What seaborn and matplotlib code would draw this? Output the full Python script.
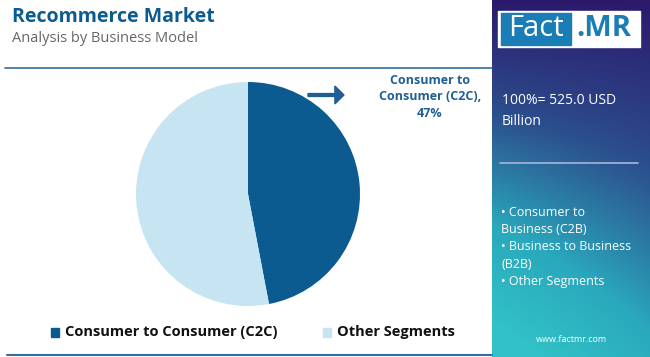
import numpy as np
import matplotlib
matplotlib.use("Agg")
import matplotlib.pyplot as plt
import seaborn as sns
from matplotlib.patches import Rectangle, FancyArrow
from matplotlib.colors import LinearSegmentedColormap

sns.set_theme(style="white")
plt.rcParams['font.family'] = ['Open Sans', 'DejaVu Sans']

# data
segments = ["Consumer to Consumer (C2C)", "Other Segments"]
shares = [47, 53]
colors = ["#0b5b91", "#c6e4f2"]
total_label = "100%= 525.0 USD\nBillion"
other_items = ["• Consumer to\nBusiness (C2B)", "• Business to Business\n(B2B)", "• Other Segments"]

W, H = 650, 357
fig = plt.figure(figsize=(W / 100, H / 100), dpi=100)
fig.patch.set_facecolor("white")

def fx(x): return x / W
def fy(y): return 1 - y / H

# titles
fig.text(fx(12), fy(17), "Recommerce Market", fontsize=14, fontweight="bold",
         color="#0b5b91", va="center", ha="left")
fig.text(fx(12), fy(38), "Analysis by Business Model", fontsize=10.5,
         color="#666666", va="center", ha="left")

# separator lines
fig.add_artist(plt.Line2D([fx(5), fx(492)], [fy(68), fy(68)], color="#2f6f9f", lw=1.2))
fig.add_artist(plt.Line2D([fx(7), fx(492)], [fy(355), fy(355)], color="#2f6f9f", lw=1.5))

# pie
r = 112
cx, cy = 248, 194
ax = fig.add_axes([fx(cx - r), fy(cy + r), 2 * r / W, 2 * r / H])
ax.pie(shares, colors=colors, startangle=90, counterclock=False,
       wedgeprops=dict(linewidth=0))
ax.set_aspect("auto")
ax.set_xlim(-1, 1)
ax.set_ylim(-1, 1)
ax.axis("off")

# callout
fig.add_artist(FancyArrow(fx(308), fy(95), fx(36) - fx(0), 0, width=0.008,
                          head_width=0.05, head_length=0.014,
                          length_includes_head=True, color="#1f5f95",
                          transform=fig.transFigure))
fig.text(fx(430), fy(97), "Consumer to\nConsumer (C2C),\n47%", fontsize=9,
         fontweight="bold", color="#1f5f95", ha="center", va="center",
         linespacing=1.35)

# legend
fig.add_artist(Rectangle((fx(51), fy(337)), 8 / W, 9 / H, color=colors[0],
                         transform=fig.transFigure))
fig.text(fx(65), fy(332), segments[0], fontsize=10.5, fontweight="bold",
         color="#111111", va="center", ha="left")
fig.add_artist(Rectangle((fx(323), fy(337)), 8 / W, 9 / H, color=colors[1],
                         transform=fig.transFigure))
fig.text(fx(337), fy(332), segments[1], fontsize=10.5, fontweight="bold",
         color="#111111", va="center", ha="left")

# right panel gradient
pax = fig.add_axes([fx(492), 0, (W - 492) / W, 1])
yy, xx = np.mgrid[0:1:200j, 0:1:100j]
t = np.clip(0.75 * yy + 0.35 * (1 - xx) * yy, 0, 1)
cmap = LinearSegmentedColormap.from_list("panel", ["#2b1a6c", "#2c4f8d", "#2aa9bd", "#33c6c8"])
pax.imshow(t, cmap=cmap, aspect="auto", extent=[0, 1, 1, 0], vmin=0, vmax=1.05)
pax.set_xlim(0, 1)
pax.set_ylim(1, 0)
pax.axis("off")

# logo
fig.add_artist(Rectangle((fx(498), fy(47)), 142 / W, 36 / H, color="white",
                         transform=fig.transFigure))
fig.add_artist(Rectangle((fx(501), fy(45)), 70 / W, 32 / H, color="#1a7db5",
                         transform=fig.transFigure))
fig.text(fx(536), fy(29), "Fact", fontsize=21, color="white", ha="center", va="center")
fig.text(fx(604), fy(29), ".MR", fontsize=21, color="#1a7db5", fontweight="bold",
         ha="center", va="center")

fig.text(fx(502), fy(111), total_label, fontsize=10, color="white", ha="left",
         va="center", linespacing=1.6)
fig.add_artist(plt.Line2D([fx(500), fx(638)], [fy(163), fy(163)], color="#a9b6d6", lw=1.2))
fig.text(fx(501), fy(247), "\n".join(other_items), fontsize=9, color="white",
         ha="left", va="center", linespacing=1.45)
fig.text(fx(571), fy(340), "www.factmr.com", fontsize=6.5, color="white",
         ha="center", va="center")

fig.savefig("out.png", dpi=100)
